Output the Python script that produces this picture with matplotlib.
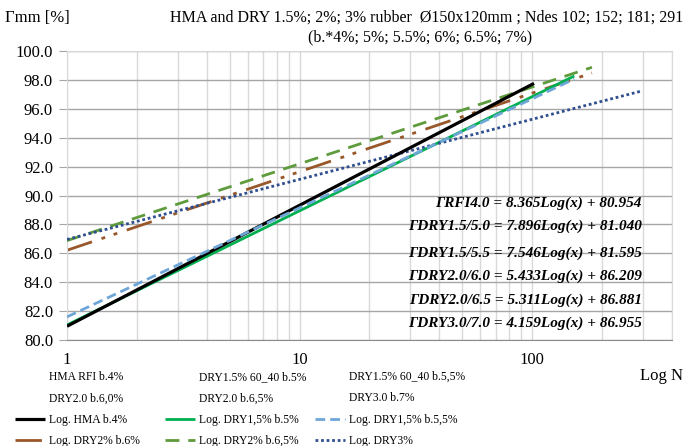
import matplotlib
matplotlib.use('Agg')
import matplotlib.pyplot as plt
from matplotlib.lines import Line2D
from matplotlib.ticker import LogLocator, FixedLocator, FormatStrFormatter, NullFormatter

plt.rcParams['font.family'] = ['Liberation Serif', 'DejaVu Serif']

# data series (markers not visible in the chart)
series_labels = ['HMA RFI b.4%', 'DRY1.5% 60_40 b.5%', 'DRY1.5% 60_40 b.5,5%',
                 'DRY2.0 b.6,0%', 'DRY2.0 b.6,5%', 'DRY3.0 b.7%']
# log trendlines: Gmm at N=1 and at the last N
trend_labels = ['Log. HMA b.4%', 'Log. DRY1,5% b.5%', 'Log. DRY1,5% b.5,5%',
                'Log. DRY2% b.6%', 'Log. DRY2% b.6,5%', 'Log. DRY3%']
n_start = [1, 1, 1, 1, 1, 1]
n_end = [102, 152, 152, 181, 181, 291]
gmm_start = [80.95, 81.04, 81.60, 86.21, 86.88, 86.96]
gmm_end = [97.76, 98.27, 98.06, 98.48, 98.87, 97.20]

equations = ['ΓRFI4.0 = 8.365Log(x) + 80.954',
             'ΓDRY1.5/5.0 = 7.896Log(x) + 81.040',
             'ΓDRY1.5/5.5 = 7.546Log(x) + 81.595',
             'ΓDRY2.0/6.0 = 5.433Log(x) + 86.209',
             'ΓDRY2.0/6.5 = 5.311Log(x) + 86.881',
             'ΓDRY3.0/7.0 = 4.159Log(x) + 86.955']

colors = ['#000000', '#00B050', '#6EA6D8', '#98582A', '#5E9B3C', '#2F4E8F']
widths = [2.3, 2.0, 2.0, 2.0, 2.0, 2.0]
dashes = [None, None, (3.5, 1.8), (9.5, 3.6, 1.4, 3.2, 1.4, 3.6), (5, 3.2), (1, 1)]
zorders = [5, 4, 6, 2, 3, 4]

W, H = 688, 446
fig = plt.figure(figsize=(6.88, 4.46), dpi=100)
ax = fig.add_axes([67 / W, 1 - 340 / H, (672 - 67) / W, (340 - 51) / H])

handles = []
for i in range(6):
    kw = dict(color=colors[i], lw=widths[i], zorder=zorders[i],
              solid_capstyle='butt', dash_capstyle='butt')
    if dashes[i] is not None:
        kw['dashes'] = dashes[i]
    ln, = ax.plot([n_start[i], n_end[i]], [gmm_start[i], gmm_end[i]],
                  label=trend_labels[i], **kw)
    handles.append(ln)

ax.set_xscale('log')
ax.set_xlim(1, 400)
ax.set_ylim(80, 100)
ax.yaxis.set_major_locator(FixedLocator([80 + 2 * k for k in range(11)]))
ax.yaxis.set_major_formatter(FormatStrFormatter('%.1f'))
ax.xaxis.set_major_locator(FixedLocator([1, 10, 100]))
ax.xaxis.set_major_formatter(FormatStrFormatter('%d'))
ax.xaxis.set_minor_locator(LogLocator(base=10, subs=range(2, 10)))
ax.xaxis.set_minor_formatter(NullFormatter())

ax.grid(True, axis='y', color='#A6A6A6', lw=1.0)
ax.grid(True, axis='x', which='both', color='#D9D9D9', lw=1.0)
ax.set_axisbelow(True)
for s in ['top', 'right', 'left']:
    ax.spines[s].set_color('#D9D9D9')
ax.spines['bottom'].set_color('#8C8C8C')
ax.tick_params(axis='y', length=6, color='#A6A6A6', labelsize=12, pad=4)
ax.tick_params(axis='x', which='both', length=0, labelsize=12, pad=9)

fig.text(5 / W, 1 - 18 / H, 'Γmm [%]', fontsize=12, va='center', ha='left')
fig.text(427 / W, 1 - 18 / H,
         'HMA and DRY 1.5%; 2%; 3% rubber  Ø150x120mm ; Ndes 102; 152; 181; 291',
         fontsize=11.5, ha='center', va='center')
fig.text(420 / W, 1 - 37 / H, '(b.*4%; 5%; 5.5%; 6%; 6.5%; 7%)',
         fontsize=11.5, ha='center', va='center')
fig.text(640 / W, 1 - 376 / H, 'Log N', fontsize=12, ha='left', va='center')

eq_y = [203, 226, 253, 276, 300, 323]
for txt, yy in zip(equations, eq_y):
    fig.text(642 / W, 1 - yy / H, txt, fontsize=11, fontweight='bold',
             fontstyle='italic', ha='right', va='center')

# legend: three columns, data series rows on top, trendlines below
blank = [Line2D([], [], linestyle='None', marker='None') for _ in range(6)]
col_x = [15, 165, 315]
for c in range(3):
    hs = [blank[c], blank[c + 3], handles[c], handles[c + 3]]
    ls = [series_labels[c], series_labels[c + 3], trend_labels[c], trend_labels[c + 3]]
    fig.legend(hs, ls, loc='upper left', bbox_to_anchor=(col_x[c] / W, 1 - 371 / H),
               frameon=False, fontsize=8.4, handlelength=2.55, handletextpad=0.36,
               labelspacing=0.8, borderpad=0, borderaxespad=0)

fig.savefig('out.png', dpi=100)
